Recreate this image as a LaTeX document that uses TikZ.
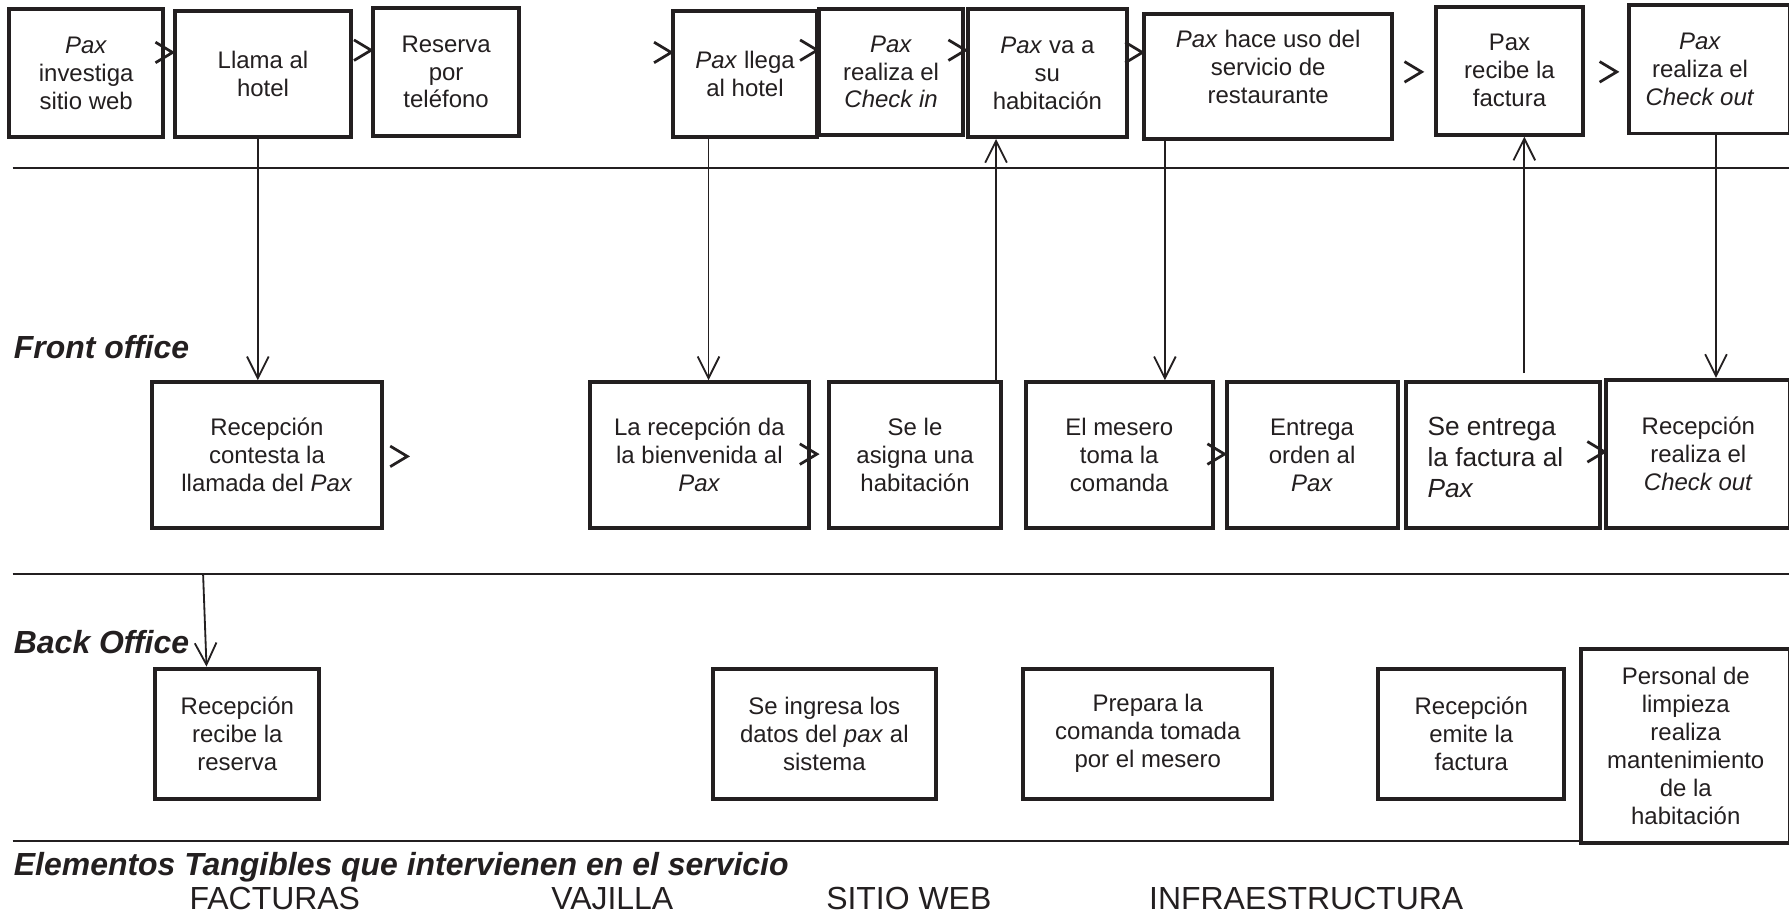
\documentclass[tikz,border=0pt]{standalone}
\usepackage{fontspec}
\setmainfont{Liberation Sans}
\usetikzlibrary{arrows.meta,calc}
\definecolor{ink}{RGB}{35,31,32}
% chevron marker whose tip sits on a named coordinate
\newcommand{\chevmark}[1]{\draw[chev] ([shift={(-15,-9)}]#1) -- (#1) -- ([shift={(-15,9)}]#1);}
\begin{document}
\begin{tikzpicture}[x=1pt,y=-1pt,
  box/.style={draw=ink, line width=3.5pt, fill=white, align=center, inner sep=1pt,
              font=\fontsize{21}{24.5}\selectfont, text=ink},
  txt/.style={align=center, inner sep=0pt, font=\fontsize{21}{24.5}\selectfont, text=ink},
  rule/.style={draw=ink, line width=1.8pt},
  link/.style={draw=ink, line width=1.6pt},
  flow/.style={link, -{Straight Barb[length=19pt,width=19pt,line width=1.6pt]}},
  chev/.style={draw=ink, line width=2.4pt, line join=miter},
  lane/.style={font=\fontsize{28}{32}\selectfont\bfseries\itshape, text=ink, anchor=base west, inner sep=0pt},
  item/.style={font=\fontsize{28}{32}\selectfont, text=ink, anchor=base west, inner sep=0pt},
]
\useasboundingbox (0,0) rectangle (1568,804);

% lane separators
\draw[rule] (11,147) -- (1568,147);
\draw[rule] (11,503) -- (1568,503);

% customer actions
\node[box, minimum width=135pt, minimum height=112pt] (b1) at (75.5,64) {\textit{Pax}\\investiga\\sitio web};
\node[box, minimum width=155pt, minimum height=110pt] (b2) at (230.5,65) {Llama al\\hotel};
\node[box, minimum width=128pt, minimum height=112pt] (b3) at (391,63) {Reserva\\por\\teléfono};
\node[box, minimum width=126pt, minimum height=110pt] (b4) at (653,65) {\textit{Pax} llega\\al hotel};
\node[box, minimum width=126pt, minimum height=110pt] (b5) at (781,63) {\textit{Pax}\\realiza el\\\textit{Check in}};
\node[box, minimum width=140pt, minimum height=112pt] (b6) at (918,64) {\textit{Pax} va a\\su\\habitación};
\node[box, minimum width=217pt, minimum height=110pt] (b7) at (1111.5,67) {};
\node[txt] (t7) at (1111.5,59) {\textit{Pax} hace uso del\\servicio de\\restaurante};
\node[box, minimum width=128pt, minimum height=112pt] (b8) at (1323,62) {Pax\\recibe la\\factura};
\node[box, minimum width=141pt, minimum height=113pt] (b9) at (1498.5,60.5) {};
\node[txt] (t9) at (1490,60.5) {\textit{Pax}\\realiza el\\\textit{Check out}};

% front office
\node[lane] (lfo) at (12,314) {Front office};
\node[box, minimum width=202pt, minimum height=128pt] (fo1) at (234,399) {Recepción\\contesta la\\llamada del \textit{Pax}};
\node[box, minimum width=192pt, minimum height=128pt] (fo2) at (613,399) {La recepción da\\la bienvenida al\\\textit{Pax}};
\node[box, minimum width=150pt, minimum height=128pt] (fo3) at (802,399) {Se le\\asigna una\\habitación};
\node[box, minimum width=164pt, minimum height=128pt] (fo4) at (981,399) {El mesero\\toma la\\comanda};
\node[box, minimum width=150pt, minimum height=128pt] (fo5) at (1150,399) {Entrega\\orden al\\\textit{Pax}};
\node[box, minimum width=170pt, minimum height=128pt] (fo6) at (1317,399) {};
\node[txt, anchor=west, align=left, font=\fontsize{23}{27}\selectfont] (t6) at (1251,401) {Se entrega\\la factura al\\\textit{Pax}};
\node[box, minimum width=161pt, minimum height=130pt] (fo7) at (1488.5,398) {Recepción\\realiza el\\\textit{Check out}};

% back office
\node[lane] (lbo) at (12,573) {Back Office};
\node[box, minimum width=144pt, minimum height=114pt] (bo1) at (208,643) {Recepción\\recibe la\\reserva};
\node[box, minimum width=195pt, minimum height=114pt] (bo2) at (722.5,643) {Se ingresa los\\datos del \textit{pax} al\\sistema};
\node[box, minimum width=218pt, minimum height=114pt] (bo3) at (1006,643) {Prepara la\\comanda tomada\\por el mesero};
\node[box, minimum width=163pt, minimum height=114pt] (bo4) at (1289.5,643) {Recepción\\emite la\\factura};
\draw[rule] (11,737) -- (1390,737);
\node[box, minimum width=183pt, minimum height=170pt] (bo5) at (1477.5,654) {Personal de\\limpieza\\realiza\\mantenimiento\\de la\\habitación};

% tangible elements
\node[lane] (lte) at (12,767) {Elementos Tangibles que intervienen en el servicio};
\node[item] (e1) at (166,797) {FACTURAS};
\node[item] (e2) at (483,797) {VAJILLA};
\node[item] (e3) at (724,797) {SITIO WEB};
\node[item] (e4) at (1007,797) {INFRAESTRUCTURA};

% vertical links between lanes
\coordinate (x1) at (226,0);
\coordinate (x2) at (621,0);
\coordinate (x3) at (873,0);
\coordinate (x4) at (1021,0);
\coordinate (s5) at (1336,327);
\coordinate (x6) at (1504,0);
\coordinate (s7) at (178,503);
\draw[flow] (b2.south -| x1) -- (fo1.north -| x1);
\draw[flow] (b4.south -| x2) -- (fo2.north -| x2);
\draw[flow] (fo3.north -| x3) -- (b6.south -| x3);
\draw[flow] (b7.south -| x4) -- (fo4.north -| x4);
\draw[flow] (s5) -- (b8.south -| s5);
\draw[flow] (b9.south -| x6) -- (fo7.north -| x6);
\draw[flow] (s7) -- ([xshift=-27pt]bo1.north);

% sequence chevrons
\coordinate (c1) at (b2.west |- 0,46);
\coordinate (c2) at (b3.west |- 0,44);
\coordinate (c3) at (b4.west |- 0,46);
\coordinate (c4) at (b5.west |- 0,44);
\coordinate (c5) at (b6.west |- 0,44);
\coordinate (c6) at (b7.west |- 0,46);
\coordinate (c7) at (1246,63);
\coordinate (c8) at (1417,63);
\coordinate (c9) at (357,400);
\coordinate (c10) at (716,398);
\coordinate (c11) at (fo5.west |- 0,398);
\coordinate (c12) at (fo7.west |- 0,396);
\foreach \c in {c1,c2,c3,c4,c5,c6,c7,c8,c9,c10,c11,c12} {\chevmark{\c}}
\end{tikzpicture}
\end{document}
